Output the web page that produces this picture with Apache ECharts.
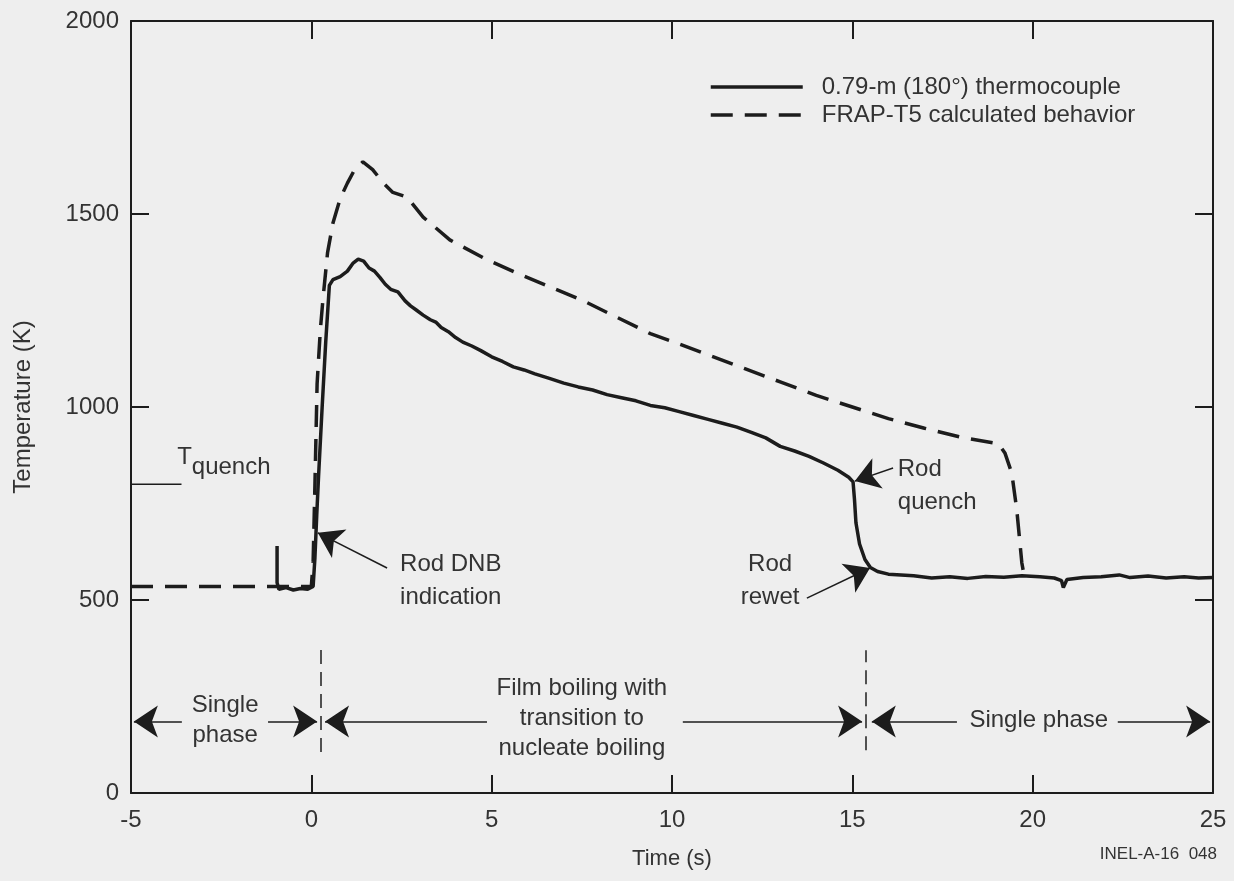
<!DOCTYPE html>
<html>
<head>
<meta charset="utf-8">
<script src="https://cdn.jsdelivr.net/npm/echarts@6/dist/echarts.min.js"></script>
<style>
  html, body { margin: 0; padding: 0; background: #eeeeee; }
  #main { width: 1234px; height: 881px; }
</style>
</head>
<body>
<div id="main"></div>
<script>
// measured thermocouple trace [time s, temperature K]
var thermocouple = [
  [-0.95, 640], [-0.95, 545], [-0.9, 528], [-0.7, 532], [-0.5, 526], [-0.3, 530], [-0.1, 528],
  [0.05, 535], [0.1, 610], [0.15, 720], [0.2, 820], [0.3, 1000], [0.4, 1170], [0.5, 1315],
  [0.6, 1330], [0.8, 1338], [1.0, 1352], [1.15, 1372], [1.3, 1383], [1.45, 1378], [1.6, 1360],
  [1.75, 1352], [1.9, 1336], [2.05, 1318], [2.2, 1305], [2.4, 1298], [2.6, 1275], [2.75, 1262],
  [2.9, 1252], [3.1, 1238], [3.3, 1226], [3.45, 1220], [3.6, 1206], [3.8, 1195], [4.0, 1180],
  [4.2, 1168], [4.45, 1158], [4.7, 1146], [5.0, 1130], [5.3, 1118], [5.6, 1104], [5.9, 1096],
  [6.2, 1086], [6.6, 1074], [7.0, 1062], [7.4, 1052], [7.8, 1044], [8.2, 1032], [8.6, 1024],
  [9.0, 1016], [9.4, 1004], [9.8, 998], [10.2, 988], [10.6, 978], [11.0, 968], [11.4, 958],
  [11.8, 948], [12.2, 934], [12.6, 920], [13.0, 898], [13.4, 886], [13.8, 872], [14.2, 855],
  [14.6, 836], [14.9, 818], [15.02, 806], [15.06, 760], [15.1, 700], [15.2, 645], [15.35, 605],
  [15.5, 584], [15.7, 574], [16.0, 567], [16.7, 563], [17.2, 557], [17.7, 560], [18.2, 556],
  [18.7, 561], [19.2, 559], [19.7, 563], [20.2, 560], [20.6, 557], [20.8, 550], [20.85, 532],
  [20.95, 553], [21.4, 558], [21.9, 560], [22.4, 565], [22.7, 558], [23.2, 562], [23.7, 557],
  [24.2, 560], [24.6, 557], [25.0, 558]
];

// FRAP-T5 calculation [time s, temperature K]
var frapCalc = [
  [-5, 535], [-1, 535], [0.0, 535], [0.05, 600], [0.1, 800], [0.16, 1060], [0.25, 1200],
  [0.32, 1277], [0.45, 1400], [0.6, 1477], [0.8, 1540], [1.0, 1580], [1.2, 1615], [1.43, 1635],
  [1.7, 1615], [2.0, 1580], [2.26, 1556], [2.65, 1544], [3.1, 1492], [3.84, 1433], [4.8, 1385],
  [5.7, 1347], [7.5, 1277], [9.4, 1190], [10, 1170], [11, 1135], [12, 1100], [13, 1065],
  [14, 1030], [15, 1000], [16, 970], [17, 945], [18, 922], [19.05, 905], [19.23, 881],
  [19.42, 829], [19.56, 733], [19.7, 596], [19.75, 570]
];

var tQuench = [[-5, 800], [-3.6, 800]];

// phase boundaries
var boundaries = [
  [[0.27, 106], [0.27, 383]],
  [[15.38, 111], [15.38, 370]]
];

// arrows: [from, to]
var arrows = [
  [[-3.59, 185], [-4.92, 185]],
  [[-1.2, 185], [0.16, 185]],
  [[4.87, 185], [0.38, 185]],
  [[10.3, 185], [15.27, 185]],
  [[17.9, 185], [15.54, 185]],
  [[22.36, 185], [24.92, 185]],
  [[2.10, 583], [0.18, 674]],
  [[16.13, 842], [15.07, 808]],
  [[13.74, 505], [15.49, 583]]
];

// text notes
var noteText = ['Rod DNB\nindication', 'Rod\nquench', 'Single\nphase',
  'Film boiling with\ntransition to\nnucleate boiling', 'Single phase', 'Rod\nrewet'];
var noteAt = [[2.46, 549], [16.26, 795], [-2.39, 189], [7.5, 194], [20.17, 189], [12.72, 549]];
var noteAlign = ['left', 'left', 'center', 'center', 'center', 'center'];

var xTicks = [-5, 0, 5, 10, 15, 20, 25];
var yTicks = [0, 500, 1000, 1500, 2000];

var ink = '#1c1c1c';
var txt = '#333333';
var font = 'Liberation Sans, Arial, sans-serif';

var myChart = echarts.init(document.getElementById('main'));

function axisBase(show) {
  return {
    type: 'value',
    axisLine: { show: true, onZero: false, lineStyle: { color: ink, width: 2 } },
    axisTick: { show: true, inside: true, length: 18, lineStyle: { color: ink, width: 2 } },
    axisLabel: {
      show: show, fontSize: 24, color: txt, fontFamily: font,
      formatter: function (v) { return String(v); }
    },
    splitLine: { show: false }
  };
}

var xBottom = axisBase(true);
xBottom.min = xTicks[0]; xBottom.max = xTicks[xTicks.length - 1]; xBottom.interval = 5;
xBottom.position = 'bottom';
xBottom.axisLabel.margin = 15;
xBottom.name = 'Time (s)';
xBottom.nameLocation = 'middle';
xBottom.nameGap = 55;
xBottom.nameTextStyle = { fontSize: 22, color: txt, fontFamily: font };
var xTop = axisBase(false);
xTop.min = xTicks[0]; xTop.max = xTicks[xTicks.length - 1]; xTop.interval = 5;
xTop.position = 'top';

var yLeft = axisBase(true);
yLeft.min = yTicks[0]; yLeft.max = yTicks[yTicks.length - 1]; yLeft.interval = 500;
yLeft.position = 'left';
yLeft.axisLabel.margin = 12;
yLeft.name = 'Temperature (K)';
yLeft.nameLocation = 'middle';
yLeft.nameGap = 96;
yLeft.nameTextStyle = { fontSize: 24, color: txt, fontFamily: font };
var yRight = axisBase(false);
yRight.min = yTicks[0]; yRight.max = yTicks[yTicks.length - 1]; yRight.interval = 500;
yRight.position = 'right';

myChart.setOption({
  backgroundColor: '#eeeeee',
  animation: false,
  textStyle: { fontFamily: font },
  grid: { left: 131, right: 21, top: 21, bottom: 88 },
  legend: {
    data: ['0.79-m (180°) thermocouple', 'FRAP-T5 calculated behavior'],
    orient: 'vertical',
    left: 704,
    top: 70,
    itemWidth: 92,
    itemHeight: 14,
    itemGap: 4,
    itemStyle: { opacity: 0 },
    lineStyle: { width: 3.5 },
    textStyle: { fontSize: 24, color: txt, fontFamily: font, padding: [0, 0, 0, 14] }
  },
  xAxis: [xBottom, xTop],
  yAxis: [yLeft, yRight],
  series: [
    {
      name: '0.79-m (180°) thermocouple',
      type: 'line',
      data: thermocouple,
      symbol: 'none',
      itemStyle: { color: ink },
      lineStyle: { color: ink, width: 3.5 },
      z: 4
    },
    {
      name: 'FRAP-T5 calculated behavior',
      type: 'line',
      data: frapCalc,
      symbol: 'none',
      itemStyle: { color: ink },
      lineStyle: { color: ink, width: 3.5, type: [22, 12] },
      z: 3
    },
    {
      name: 'Tquench',
      type: 'line',
      data: tQuench,
      symbol: 'none',
      lineStyle: { color: ink, width: 1.5 },
      silent: true
    },
    {
      name: 'boundaries',
      type: 'lines',
      coordinateSystem: 'cartesian2d',
      data: boundaries.map(function (c) { return { coords: c }; }),
      symbol: 'none',
      lineStyle: { color: ink, width: 1.5, type: [14, 8], opacity: 1 },
      silent: true
    },
    {
      name: 'arrows',
      type: 'lines',
      coordinateSystem: 'cartesian2d',
      data: arrows.map(function (c) { return { coords: c }; }),
      symbol: ['none', 'arrow'],
      symbolSize: [7, 24],
      lineStyle: { color: ink, width: 1.5, opacity: 1 },
      silent: true
    },
    {
      name: 'notes',
      type: 'scatter',
      symbolSize: 0,
      silent: true,
      itemStyle: { opacity: 1 },
      data: noteAt.map(function (p, i) {
        return {
          value: p,
          label: {
            show: true,
            formatter: noteText[i],
            position: noteAlign[i] === 'left' ? 'right' : 'inside',
            distance: 0,
            align: noteAlign[i],
            verticalAlign: 'middle',
            fontSize: 24,
            lineHeight: noteText[i].indexOf('Rod') === 0 ? 33 : 30,
            color: txt,
            opacity: 1,
            fontFamily: font
          }
        };
      })
    },
    {
      name: 'tquench label',
      type: 'scatter',
      symbolSize: 0,
      silent: true,
      itemStyle: { opacity: 1 },
      data: [{
        value: [-3.72, 857],
        label: {
          show: true, formatter: '{t|T}{q|quench}', position: 'right', distance: 0,
          align: 'left', color: txt, opacity: 1, fontFamily: font,
          rich: {
            t: { fontSize: 24, lineHeight: 34, verticalAlign: 'top', color: txt, fontFamily: font },
            q: { fontSize: 24, lineHeight: 34, verticalAlign: 'bottom', color: txt, fontFamily: font }
          }
        }
      }]
    }
  ],
  graphic: [{
    type: 'text',
    right: 17,
    top: 846,
    style: { text: 'INEL-A-16  048', fontSize: 17, fill: txt, fontFamily: font }
  }]
});
</script>
</body>
</html>
